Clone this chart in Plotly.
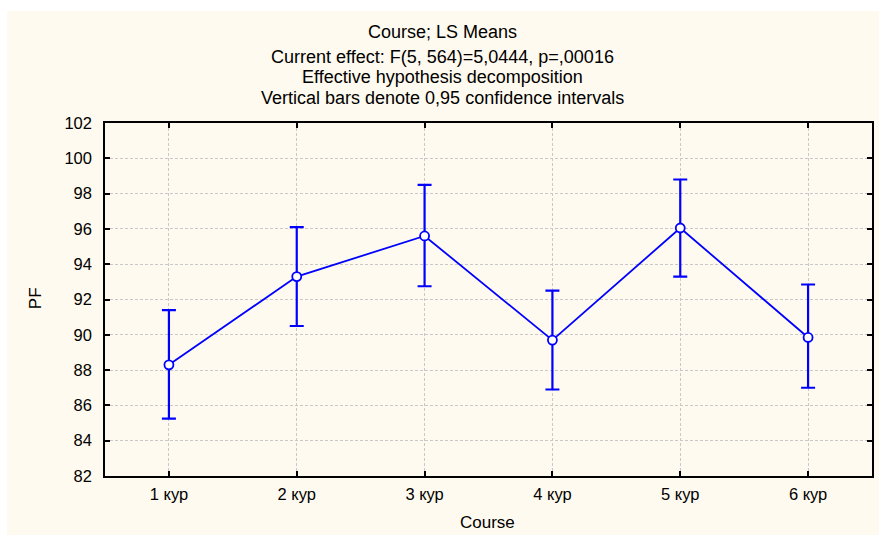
import plotly.graph_objects as go

# LS means of PF by course with 0.95 confidence limits
courses = ["1 кур", "2 кур", "3 кур", "4 кур", "5 кур", "6 кур"]
pf_means = [88.3, 93.3, 95.6, 89.7, 96.05, 89.85]
ci_upper = [91.4, 96.1, 98.5, 92.5, 98.8, 92.85]
ci_lower = [85.25, 90.5, 92.75, 86.9, 93.3, 87.0]

y_ticks = list(range(82, 103, 2))

title_lines = [
    "Course; LS Means",
    "Current effect: F(5, 564)=5,0444, p=,00016",
    "Effective hypothesis decomposition",
    "Vertical bars denote 0,95 confidence intervals",
]

W, H = 881, 537
L, R, T, B = 105, 874, 123, 476
PW, PH = R - L, B - T


def px_x(px):
    return (px - L) / PW


def px_y(py):
    return (B - py) / PH


err_plus = [u - m for u, m in zip(ci_upper, pf_means)]
err_minus = [m - lo for m, lo in zip(pf_means, ci_lower)]

BLUE = "#0000FF"
FONT = "Liberation Sans, Arial, sans-serif"
TITLE = 18
TXT = 17
TICK = 16.5

fig = go.Figure()
fig.add_trace(go.Scatter(
    x=courses,
    y=pf_means,
    mode="lines+markers",
    line=dict(color=BLUE, width=1.8),
    marker=dict(symbol="circle", size=9, color="white",
                line=dict(color=BLUE, width=1.8)),
    error_y=dict(type="data", symmetric=False, array=err_plus,
                 arrayminus=err_minus, color=BLUE, thickness=2.2, width=7),
    showlegend=False,
    cliponaxis=False,
))

# cream panel behind the whole chart
shapes = [dict(type="rect", xref="paper", yref="paper",
               x0=px_x(7), x1=px_x(881), y0=px_y(535), y1=px_y(11),
               fillcolor="#FFFAEF", line=dict(width=0), layer="below")]

annotations = []
for text, py in zip(title_lines, [32, 57, 77, 98]):
    annotations.append(dict(text=text, x=px_x(443), y=px_y(py),
                            xref="paper", yref="paper", showarrow=False,
                            xanchor="center", yanchor="middle",
                            font=dict(size=TITLE, color="black", family=FONT)))
annotations.append(dict(text="Course", x=px_x(488), y=px_y(522),
                        xref="paper", yref="paper", showarrow=False,
                        xanchor="center", yanchor="middle",
                        font=dict(size=TXT, color="black", family=FONT)))
annotations.append(dict(text="PF", x=px_x(35), y=px_y(298),
                        xref="paper", yref="paper", showarrow=False,
                        textangle=-90, xanchor="center", yanchor="middle",
                        font=dict(size=TXT, color="black", family=FONT)))

fig.update_layout(
    width=W, height=H,
    margin=dict(l=L, r=W - R, t=T, b=H - B, pad=0),
    paper_bgcolor="white",
    plot_bgcolor="white",
    shapes=shapes,
    annotations=annotations,
    font=dict(family=FONT, size=TXT, color="black"),
    xaxis=dict(
        type="category", range=[-0.5, 5.5],
        showgrid=True, gridcolor="#C8C8C8", griddash="3px,2px", gridwidth=1,
        showline=True, linecolor="black", linewidth=1.5, mirror="ticks",
        ticks="inside", ticklen=5, tickcolor="black", tickwidth=1.5,
        tickfont=dict(size=TICK, color="black", family=FONT),
        ticklabelstandoff=2,
        zeroline=False,
    ),
    yaxis=dict(
        range=[82, 102], tickvals=y_ticks,
        showgrid=True, gridcolor="#C8C8C8", griddash="3px,2px", gridwidth=1,
        showline=True, linecolor="black", linewidth=1.5, mirror="ticks",
        ticks="inside", ticklen=5, tickcolor="black", tickwidth=1.5,
        tickfont=dict(size=TICK, color="black", family=FONT),
        ticklabelstandoff=8,
        zeroline=False,
    ),
)

fig.write_html("out.html")
